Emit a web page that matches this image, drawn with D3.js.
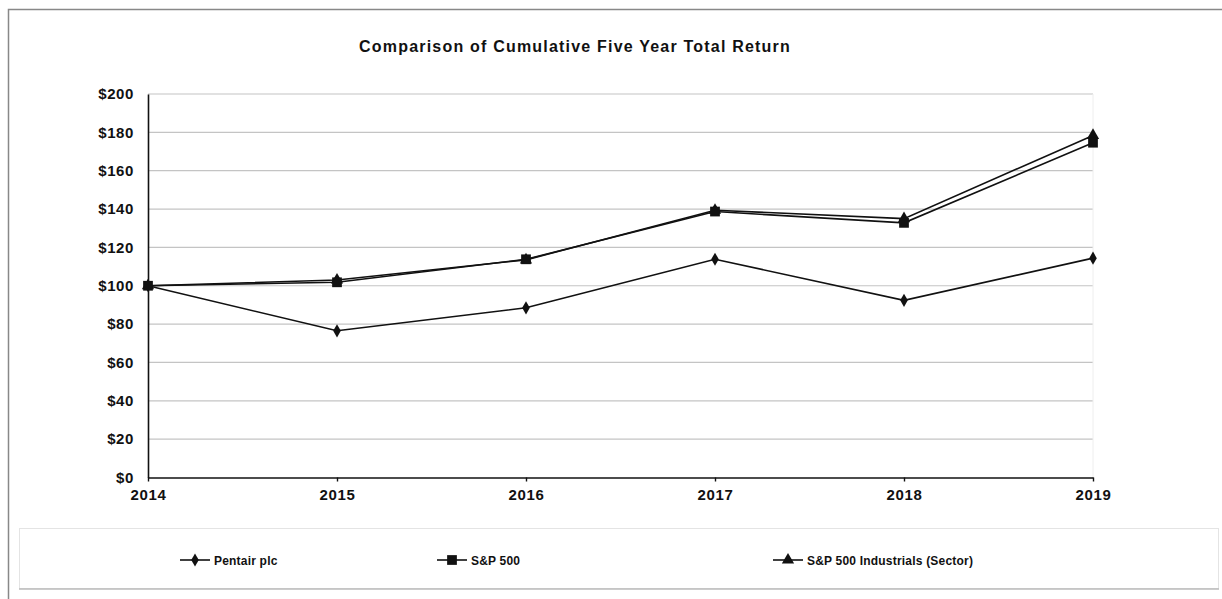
<!DOCTYPE html>
<html>
<head>
<meta charset="utf-8">
<script src="https://cdn.jsdelivr.net/npm/d3@7"></script>
<style>
  body { margin: 0; background: #fff; }
  text { font-family: "Liberation Sans", Arial, sans-serif; font-weight: bold; fill: #111; }
</style>
</head>
<body>
<div id="vis"></div>
<script>
var width = 1222, height = 599;

// Data
var years = [2014, 2015, 2016, 2017, 2018, 2019];
var pentair = [100, 76.5, 88.5, 113.8, 92.4, 114.4];
var sp500 = [100, 101.8, 113.8, 138.7, 132.8, 174.6];
var industrials = [100, 103, 113.5, 139.4, 135.0, 178.4];
var yTicks = [0, 20, 40, 60, 80, 100, 120, 140, 160, 180, 200];
var seriesNames = ["Pentair plc", "S&P 500", "S&P 500 Industrials (Sector)"];
var markerTypes = ["diamond", "square", "triangle"];

var margin = {left: 148, right: 129, top: 94, bottom: 121};

var svg = d3.select("#vis").append("svg")
    .attr("width", width)
    .attr("height", height);

// outer frame (left + top only visible)
svg.append("path")
    .attr("d", "M8.5," + height + " L8.5,9.5 L" + width + ",9.5")
    .attr("fill", "none")
    .attr("stroke", "#888")
    .attr("stroke-width", 1.5);

var x = d3.scalePoint()
    .domain(years)
    .range([margin.left, width - margin.right]);

var y = d3.scaleLinear()
    .domain([0, 200])
    .range([height - margin.bottom - 0.5, margin.top]);

// title
svg.append("text")
    .attr("x", 575)
    .attr("y", 52)
    .attr("text-anchor", "middle")
    .style("font-size", "16px")
    .style("letter-spacing", "1.2px")
    .text("Comparison of Cumulative Five Year Total Return");

// gridlines
svg.append("g").selectAll("line")
    .data(yTicks.filter(function(d){ return d > 0; }))
    .enter().append("line")
    .attr("x1", margin.left)
    .attr("x2", width - margin.right)
    .attr("y1", function(d){ return y(d); })
    .attr("y2", function(d){ return y(d); })
    .attr("stroke", "#c4c4c4")
    .attr("stroke-width", 1.2);

// right plot edge (faint)
svg.append("line")
    .attr("x1", width - margin.right).attr("x2", width - margin.right)
    .attr("y1", y(200)).attr("y2", y(0))
    .attr("stroke", "#eee");

// y axis
var yAxis = d3.axisLeft(y)
    .tickValues(yTicks)
    .tickSize(0)
    .tickPadding(14)
    .tickFormat(function(d){ return "$" + d; });
var yg = svg.append("g")
    .attr("transform", "translate(" + margin.left + ",0)")
    .call(yAxis);
yg.select(".domain").attr("stroke", "#111").attr("stroke-width", 1.6);
yg.selectAll("text").style("font-size", "15px").style("letter-spacing", "0.6px")
    .style("font-family", "Liberation Sans, Arial, sans-serif").attr("font-weight", "bold").attr("fill", "#111");

// x axis
var xAxis = d3.axisBottom(x)
    .tickSize(4)
    .tickSizeOuter(0)
    .tickPadding(8);
var xg = svg.append("g")
    .attr("transform", "translate(0," + y(0) + ")")
    .call(xAxis);
xg.select(".domain").attr("stroke", "#111").attr("stroke-width", 1.6);
xg.selectAll(".tick line").attr("stroke", "#111").attr("stroke-width", 1.4);
xg.selectAll("text").style("font-size", "15px").style("letter-spacing", "0.6px")
    .style("font-family", "Liberation Sans, Arial, sans-serif").attr("font-weight", "bold").attr("fill", "#111");

var line = d3.line()
    .x(function(d, i){ return x(years[i]); })
    .y(function(d){ return y(d); });

var symbolMap = {
    diamond: d3.symbol().type(d3.symbolDiamond).size(50),
    square: d3.symbol().type(d3.symbolSquare).size(95),
    triangle: d3.symbol().type(d3.symbolTriangle).size(65)
};

var allSeries = [pentair, industrials, sp500];
var allMarkers = ["diamond", "triangle", "square"];

allSeries.forEach(function(s, k){
    svg.append("path")
        .datum(s)
        .attr("d", line)
        .attr("fill", "none")
        .attr("stroke", "#111")
        .attr("stroke-width", 1.6);
});
allSeries.forEach(function(s, k){
    svg.append("g").selectAll("path")
        .data(s)
        .enter().append("path")
        .attr("d", symbolMap[allMarkers[k]]())
        .attr("transform", function(d, i){ return "translate(" + x(years[i]) + "," + y(d) + ")"; })
        .attr("fill", "#111");
});

// legend
var legend = svg.append("g").classed("legend", true);
legend.append("rect")
    .attr("x", 19.5).attr("y", 528.5)
    .attr("width", 1199).attr("height", 60)
    .attr("fill", "#fff")
    .attr("stroke", "#e4e4e4");
legend.append("line")
    .attr("x1", 19).attr("x2", 1219)
    .attr("y1", 589).attr("y2", 589)
    .attr("stroke", "#bbb").attr("stroke-width", 1.5);

var legendX = [180, 437, 773];
var legendY = 560;
seriesNames.forEach(function(name, i){
    var g = legend.append("g").attr("transform", "translate(" + legendX[i] + "," + legendY + ")");
    g.append("line").attr("x1", 0).attr("x2", 30).attr("y1", 0).attr("y2", 0)
        .attr("stroke", "#111").attr("stroke-width", 1.6);
    g.append("path").attr("d", symbolMap[markerTypes[i]]())
        .attr("transform", "translate(15,0)").attr("fill", "#111");
    g.append("text").attr("x", 34).attr("y", 4.5)
        .style("font-size", "12px")
        .style("letter-spacing", "0.2px")
        .text(name);
});
</script>
</body>
</html>
